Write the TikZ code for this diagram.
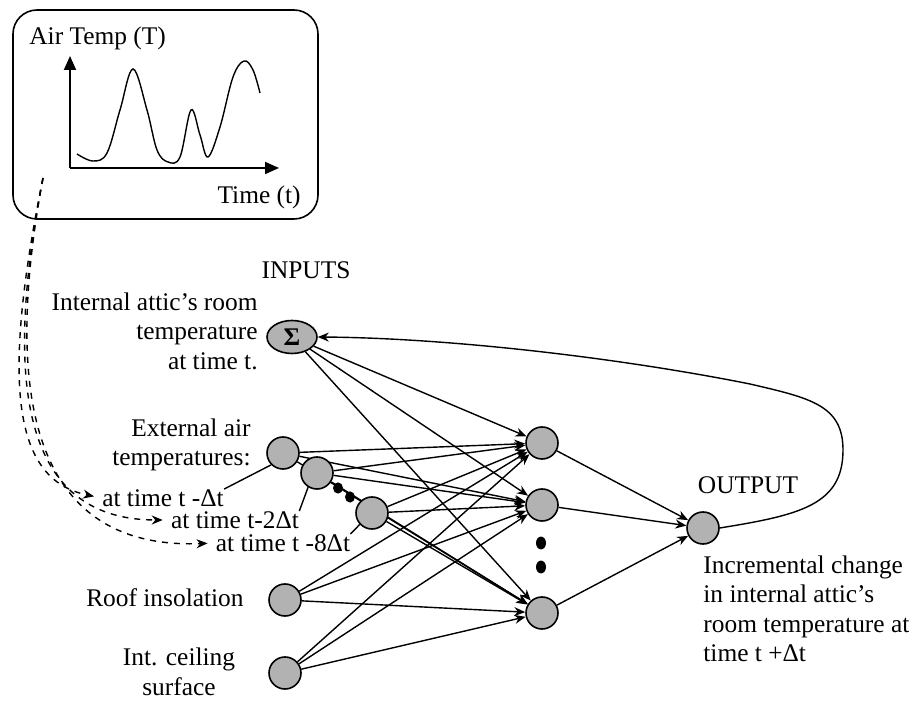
\documentclass[tikz,border=0pt]{standalone}
\usepackage{fontspec}
\setmainfont{Liberation Serif}
\usetikzlibrary{shapes.geometric,arrows.meta,backgrounds}

\tikzset{
  neuron/.style = {circle, draw, line width = 0.8pt, fill = gray!60, minimum size = 16pt, inner sep = 0pt},
  link/.style = {->, line width = 0.7pt},
  txt/.style = {inner sep = 0pt},
  axis/.style = {-{Triangle[length = 7pt, width = 6pt]}, line width = 0.9pt}
}

\begin{document}
\begin{tikzpicture}
          [x = 0.5pt, y = -0.5pt, >= {Stealth[length = 5.5pt, width = 4.5pt]},
           font = \fontsize{12.7}{14.8}\selectfont]
          \useasboundingbox (0,0) rectangle (909,704);
          \node[draw, line width = 0.8pt, rounded corners = 12pt, minimum width = 152.5pt,
                minimum height = 104.5pt] (tempbox) at (165.5,114.5) {};
          \node[txt, anchor = west] (ylab) at (29,38) {Air Temp (T)};
          \node[txt, anchor = east] (xlab) at (301,197) {Time (t)};
          \coordinate (orig) at (70,168);
          \draw[axis] (orig) -- (70,56);
          \draw[axis] (orig) -- (279,168);
          \draw[line width = 0.7pt] plot[smooth, tension = 0.6] coordinates
            {(77,154) (93,161) (107,153) (120,110) (133,69) (147,110) (157,150) (168,162)
             (180,157) (191,110) (200,135) (208,157) (220,127) (233,77) (244,61) (253,70) (260,93)};

          \node[txt] (inputs) at (306,270) {INPUTS};
          \node[txt, anchor = east, align = right] (intlab) at (258,331)
            {Internal attic’s room\\temperature\\at time t.};
          \node[txt, anchor = east, align = right] (extlab) at (251,445)
            {External air\\temperatures:};
          \node[txt, anchor = east] (rooflab) at (244,598) {Roof insolation};
          \node[txt, align = center] (ceillab) at (179,672) {Int. ceiling\\surface};
          \node[txt] (lab1) at (163,498) {at time t -Δt};
          \node[txt] (lab2) at (235,520) {at time t-2Δt};
          \node[txt] (lab3) at (283,543) {at time t -8Δt};

          \node[ellipse, draw, line width = 0.8pt, fill = gray!60, minimum width = 25pt,
                minimum height = 16.5pt, inner sep = 0pt] (sig) at (292,337) {\textbf{Σ}};
          \node[neuron] (e1) at (283,453) {};
          \node[neuron] (e2) at (317,473) {};
          \node[neuron] (e3) at (372,513) {};
          \node[neuron] (roof) at (285,600) {};
          \node[neuron] (ceil) at (285,673) {};
          \node[neuron] (h1) at (542,443) {};
          \node[neuron] (h2) at (542,505) {};
          \node[neuron] (h3) at (542,613) {};
          \node[neuron] (out) at (703,528) {};
          \node[txt] (outlab) at (748,485) {OUTPUT};
          \node[txt, anchor = north west, align = left] (outtxt) at (703,555)
            {Incremental change\\in internal attic’s\\room temperature at\\time t +Δt};

          \fill (338,488) ellipse (2.5pt and 2.8pt);
          \fill (350,497) ellipse (2.5pt and 2.8pt);
          \fill (541,543) ellipse (2.5pt and 3.2pt);
          \fill (541,567) ellipse (2.5pt and 3.2pt);

          \begin{scope}[on background layer]
            \foreach \i in {sig,e1,e2,e3,roof,ceil}
              \foreach \j in {h1,h2,h3}
                \draw[link] (\i) -- (\j);
          \end{scope}
          \foreach \j in {h1,h2,h3}
            \draw[link] (\j) -- (out);
          \draw[link] (out.east) .. controls (800,515) and (843,505) .. (843,450)
            .. controls (843,405) and (810,398) .. (750,384)
            .. controls (620,358) and (450,338) .. (sig.east);

          \draw[line width = 0.7pt] (lab1.north east) -- (e1.south west);
          \draw[line width = 0.7pt] (lab2.north east) -- (e2.238);
          \draw[line width = 0.7pt] (lab3.north east) -- (e3.223);

          \coordinate (src) at (43,178);
          \draw[link, dashed, shorten > = 4pt] (src) .. controls (0,390) and (15,480) .. (lab1.west);
          \draw[link, dashed, shorten > = 4pt] (src) .. controls (0,400) and (30,520) .. (lab2.west);
          \draw[link, dashed, shorten > = 4pt] (src) .. controls (0,410) and (40,550) .. (lab3.west);
        \end{tikzpicture}
\end{document}
